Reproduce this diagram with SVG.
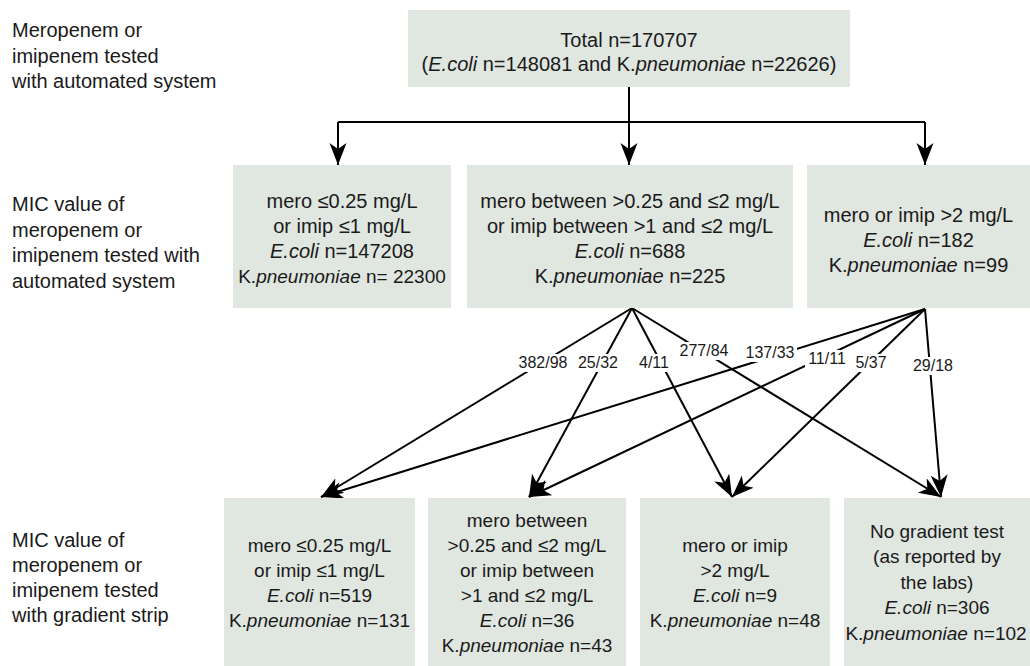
<svg xmlns="http://www.w3.org/2000/svg" width="1030" height="666" viewBox="0 0 1030 666">
<style>
text{font-family:"Liberation Sans",Arial,sans-serif;fill:#1a1a1a}
.t{font-size:20px}
.s{font-size:19px}
.c{text-anchor:middle}
.lab{font-size:16px;text-anchor:middle}
.box{fill:#e0e6e0}
.i{font-style:italic}
.ln{stroke:#000;stroke-width:2;fill:none}
.bg{fill:#fff}
</style>
<defs>
<marker id="ah" markerUnits="userSpaceOnUse" markerWidth="24" markerHeight="18" refX="22" refY="8.5" orient="auto" viewBox="0 0 24 18">
<path d="M0,0 L22,8.5 L0,17 L6,8.5 z" fill="#000"/>
</marker>
</defs>
<rect width="1030" height="666" fill="#fff"/>

<g id="row-labels">
<text class="t" x="12" y="37">Meropenem or</text>
<text class="t" x="12" y="62.5">imipenem tested</text>
<text class="t" x="12" y="88">with automated system</text>
<text class="t" x="12" y="211">MIC value of</text>
<text class="t" x="12" y="236.5">meropenem or</text>
<text class="t" x="12" y="262">imipenem tested with</text>
<text class="t" x="12" y="287.5">automated system</text>
<text class="t" x="12" y="547">MIC value of</text>
<text class="t" x="12" y="572">meropenem or</text>
<text class="t" x="12" y="597">imipenem tested</text>
<text class="t" x="12" y="622">with gradient strip</text>
</g>

<g id="connectors">
<path class="ln" d="M338,122 H925"/>
<path class="ln" d="M629,87 V165" marker-end="url(#ah)"/>
<path class="ln" d="M338,122 V165" marker-end="url(#ah)"/>
<path class="ln" d="M925,122 V165" marker-end="url(#ah)"/>
<path class="ln" d="M632,308 L321,497" marker-end="url(#ah)"/>
<path class="ln" d="M632,308 L529,497" marker-end="url(#ah)"/>
<path class="ln" d="M632,308 L732,497" marker-end="url(#ah)"/>
<path class="ln" d="M632,308 L941,497" marker-end="url(#ah)"/>
<path class="ln" d="M925,309 L321,497" marker-end="url(#ah)"/>
<path class="ln" d="M925,309 L529,497" marker-end="url(#ah)"/>
<path class="ln" d="M925,309 L732,497" marker-end="url(#ah)"/>
<path class="ln" d="M925,309 L941,497" marker-end="url(#ah)"/>
<g id="connector-labels">
<rect class="bg" x="516" y="354" width="54" height="18"/>
<text class="lab" x="543" y="368">382/98</text>
<rect class="bg" x="576" y="354" width="44" height="18"/>
<text class="lab" x="598" y="368">25/32</text>
<rect class="bg" x="637" y="354" width="35" height="18"/>
<text class="lab" x="654" y="368">4/11</text>
<rect class="bg" x="677" y="342" width="54" height="18"/>
<text class="lab" x="704" y="356">277/84</text>
<rect class="bg" x="743" y="344" width="54" height="18"/>
<text class="lab" x="770" y="358">137/33</text>
<rect class="bg" x="805" y="350" width="44" height="18"/>
<text class="lab" x="827" y="364">11/11</text>
<rect class="bg" x="854" y="354" width="35" height="18"/>
<text class="lab" x="871" y="368">5/37</text>
<rect class="bg" x="911" y="357" width="44" height="18"/>
<text class="lab" x="933" y="371">29/18</text>
</g>
</g>

<g id="total">
<rect class="box" x="408" y="10" width="442" height="77"/>
<text class="t c" x="629" y="46.5">Total n=170707</text>
<text class="t c" x="629" y="71">(<tspan class="i">E.coli</tspan> n=148081 and K.<tspan class="i">pneumoniae</tspan> n=22626)</text>
</g>

<g id="auto-low">
<rect class="box" x="233" y="165" width="218" height="143"/>
<text class="t c" x="342" y="208">mero ≤0.25 mg/L</text>
<text class="t c" x="342" y="233">or imip ≤1 mg/L</text>
<text class="t c" x="342" y="258"><tspan class="i">E.coli</tspan> n=147208</text>
<text class="s c" x="342" y="283">K.<tspan class="i">pneumoniae</tspan> n= 22300</text>
</g>

<g id="auto-mid">
<rect class="box" x="467" y="165" width="326" height="143"/>
<text class="t c" x="630" y="208">mero between &gt;0.25 and ≤2 mg/L</text>
<text class="t c" x="630" y="233">or imip between &gt;1 and ≤2 mg/L</text>
<text class="t c" x="630" y="258"><tspan class="i">E.coli</tspan> n=688</text>
<text class="t c" x="630" y="283">K.<tspan class="i">pneumoniae</tspan> n=225</text>
</g>

<g id="auto-high">
<rect class="box" x="807" y="165" width="223" height="143"/>
<text class="t c" x="918.5" y="222">mero or imip &gt;2 mg/L</text>
<text class="t c" x="918.5" y="247"><tspan class="i">E.coli</tspan> n=182</text>
<text class="t c" x="918.5" y="272">K.<tspan class="i">pneumoniae</tspan> n=99</text>
</g>

<g id="strip-low">
<rect class="box" x="224" y="498" width="191" height="168"/>
<text class="s c" x="319.5" y="552">mero ≤0.25 mg/L</text>
<text class="s c" x="319.5" y="577">or imip ≤1 mg/L</text>
<text class="s c" x="319.5" y="602"><tspan class="i">E.coli</tspan> n=519</text>
<text class="s c" x="319.5" y="627">K.<tspan class="i">pneumoniae</tspan> n=131</text>
</g>

<g id="strip-mid">
<rect class="box" x="428" y="498" width="198" height="168"/>
<text class="s c" x="527" y="527">mero between</text>
<text class="s c" x="527" y="552">&gt;0.25 and ≤2 mg/L</text>
<text class="s c" x="527" y="577">or imip between</text>
<text class="s c" x="527" y="602">&gt;1 and ≤2 mg/L</text>
<text class="s c" x="527" y="627"><tspan class="i">E.coli</tspan> n=36</text>
<text class="s c" x="527" y="652">K.<tspan class="i">pneumoniae</tspan> n=43</text>
</g>

<g id="strip-high">
<rect class="box" x="640" y="498" width="190" height="168"/>
<text class="s c" x="735" y="552">mero or imip</text>
<text class="s c" x="735" y="577">&gt;2 mg/L</text>
<text class="s c" x="735" y="602"><tspan class="i">E.coli</tspan> n=9</text>
<text class="s c" x="735" y="627">K.<tspan class="i">pneumoniae</tspan> n=48</text>
</g>

<g id="no-gradient">
<rect class="box" x="844" y="498" width="186" height="168"/>
<text class="s c" x="937" y="537.5">No gradient test</text>
<text class="s c" x="937" y="563">(as reported by</text>
<text class="s c" x="937" y="588.5">the labs)</text>
<text class="s c" x="937" y="614"><tspan class="i">E.coli</tspan> n=306</text>
<text class="s c" x="936" y="639.5">K.<tspan class="i">pneumoniae</tspan> n=102</text>
</g>
</svg>
